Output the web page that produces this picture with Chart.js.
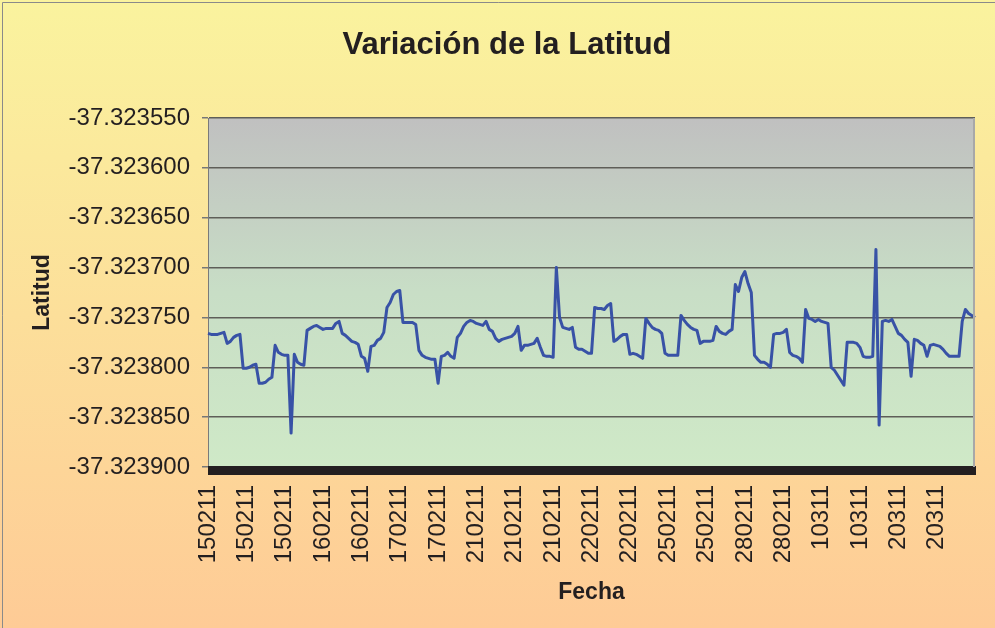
<!DOCTYPE html>
<html><head><meta charset="utf-8">
<script src="https://cdn.jsdelivr.net/npm/chart.js@4.4.1/dist/chart.umd.min.js"></script>
<style>html,body{margin:0;padding:0;background:#fff}#wrap{width:995px;height:628px;position:relative}</style>
</head><body><div id="wrap"><canvas id="c" width="995" height="628"></canvas></div>
<script>
// Tick labels (fecha) shown along the category axis, one every 12 readings
const tickLabels = ["150211","150211","150211","160211","160211","170211","170211",
  "210211","210211","210211","220211","220211","250211","250211","280211","280211",
  "10311","10311","20311","20311"];
const readingsPerTick = 12;

// Latitude readings (degrees)
const latitud = [
  -37.323766,-37.323767,-37.323767,-37.323767,-37.323766,-37.323765,-37.323776,-37.323774,-37.323770,-37.323768,-37.323767,-37.323801,
  -37.323801,-37.323800,-37.323798,-37.323797,-37.323816,-37.323816,-37.323815,-37.323812,-37.323810,-37.323778,-37.323785,-37.323787,
  -37.323788,-37.323788,-37.323866,-37.323787,-37.323795,-37.323797,-37.323798,-37.323763,-37.323761,-37.323759,-37.323758,-37.323760,
  -37.323762,-37.323761,-37.323761,-37.323761,-37.323756,-37.323754,-37.323766,-37.323768,-37.323771,-37.323774,-37.323775,-37.323777,
  -37.323789,-37.323791,-37.323804,-37.323779,-37.323778,-37.323773,-37.323771,-37.323765,-37.323740,-37.323735,-37.323727,-37.323724,
  -37.323723,-37.323755,-37.323755,-37.323755,-37.323755,-37.323757,-37.323783,-37.323788,-37.323790,-37.323791,-37.323792,-37.323792,
  -37.323816,-37.323789,-37.323788,-37.323785,-37.323789,-37.323791,-37.323770,-37.323766,-37.323759,-37.323755,-37.323753,-37.323754,
  -37.323756,-37.323757,-37.323758,-37.323754,-37.323762,-37.323764,-37.323771,-37.323774,-37.323772,-37.323771,-37.323770,-37.323769,
  -37.323766,-37.323759,-37.323783,-37.323778,-37.323778,-37.323777,-37.323776,-37.323771,-37.323780,-37.323788,-37.323789,-37.323789,
  -37.323790,-37.323700,-37.323750,-37.323760,-37.323761,-37.323762,-37.323760,-37.323780,-37.323782,-37.323782,-37.323784,-37.323786,
  -37.323786,-37.323740,-37.323741,-37.323741,-37.323742,-37.323738,-37.323736,-37.323774,-37.323772,-37.323769,-37.323767,-37.323767,
  -37.323787,-37.323786,-37.323787,-37.323789,-37.323791,-37.323751,-37.323756,-37.323760,-37.323762,-37.323763,-37.323766,-37.323786,
  -37.323788,-37.323788,-37.323788,-37.323788,-37.323748,-37.323753,-37.323757,-37.323760,-37.323762,-37.323763,-37.323776,-37.323774,
  -37.323774,-37.323774,-37.323773,-37.323759,-37.323764,-37.323766,-37.323767,-37.323764,-37.323762,-37.323717,-37.323724,-37.323710,
  -37.323704,-37.323716,-37.323725,-37.323788,-37.323792,-37.323795,-37.323795,-37.323797,-37.323800,-37.323767,-37.323766,-37.323766,
  -37.323765,-37.323762,-37.323785,-37.323788,-37.323789,-37.323791,-37.323795,-37.323742,-37.323751,-37.323752,-37.323754,-37.323752,
  -37.323754,-37.323755,-37.323756,-37.323800,-37.323803,-37.323808,-37.323813,-37.323818,-37.323775,-37.323775,-37.323775,-37.323776,
  -37.323780,-37.323789,-37.323790,-37.323790,-37.323789,-37.323682,-37.323858,-37.323754,-37.323753,-37.323754,-37.323752,-37.323759,
  -37.323766,-37.323768,-37.323772,-37.323775,-37.323809,-37.323772,-37.323773,-37.323776,-37.323778,-37.323789,-37.323778,-37.323777,
  -37.323778,-37.323779,-37.323782,-37.323786,-37.323789,-37.323789,-37.323789,-37.323789,-37.323754,-37.323742,-37.323746,-37.323748,
  -37.323750
];

// Y axis range / step
const yMin = -37.323900, yMax = -37.323550, yStep = 0.00005;

const titleText = 'Variación de la Latitud';

// Category labels: each reading carries the date of its block
const categories = latitud.map((_, i) => tickLabels[Math.min(Math.floor(i / readingsPerTick), tickLabels.length - 1)]);

const FONT = "'Liberation Sans', Arial, sans-serif";

const bgPlugin = {
  id: 'bg',
  beforeDraw(chart) {
    const {ctx, width, height, chartArea: a} = chart;
    ctx.save();
    const g = ctx.createLinearGradient(0, 0, 0, height);
    g.addColorStop(0, '#FAF39E');
    g.addColorStop(1, '#FECB96');
    ctx.fillStyle = g;
    ctx.fillRect(0, 0, width, height);
    // outer frame
    ctx.strokeStyle = '#8a8a8a';
    ctx.lineWidth = 1;
    ctx.beginPath();
    ctx.moveTo(2.5, height); ctx.lineTo(2.5, 2.5); ctx.lineTo(width, 2.5);
    ctx.stroke();
    // plot area
    const p = ctx.createLinearGradient(0, a.top, 0, a.bottom);
    p.addColorStop(0, '#C0C0C0');
    p.addColorStop(0.5, '#C8DEC6');
    p.addColorStop(1, '#CFE9C7');
    ctx.fillStyle = p;
    ctx.fillRect(a.left, a.top, a.right - a.left, a.bottom - a.top);
    // title
    ctx.fillStyle = '#231F20';
    ctx.font = 'bold 31px ' + FONT;
    ctx.textAlign = 'center';
    ctx.textBaseline = 'middle';
    ctx.fillText(titleText, 507, 45);
    ctx.restore();
  },
  afterDraw(chart) {
    const {ctx, chartArea: a} = chart;
    ctx.save();
    ctx.fillStyle = '#231F20';
    ctx.fillRect(a.left, a.bottom - 1, a.right - a.left + 1, 9);
    ctx.strokeStyle = '#A8A8A8';
    ctx.lineWidth = 2;
    ctx.beginPath();
    ctx.moveTo(a.right - 1, a.top); ctx.lineTo(a.right - 1, a.bottom);
    ctx.stroke();
    ctx.restore();
  }
};

new Chart(document.getElementById('c'), {
  type: 'line',
  data: {
    labels: categories,
    datasets: [{
      data: latitud,
      borderColor: '#3852A6',
      borderWidth: 3,
      pointRadius: 0,
      tension: 0,
      borderJoinStyle: 'round',
      fill: false
    }]
  },
  options: {
    responsive: false,
    animation: false,
    layout: {padding: {left: 0, right: 20, top: 118, bottom: 0}},
    plugins: {
      legend: {display: false},
      tooltip: {enabled: false},
      title: {display: false}
    },
    scales: {
      x: {
        type: 'category',
        offset: false,
        grid: {display: false, drawTicks: false},
        border: {display: false},
        ticks: {
          autoSkip: false,
          minRotation: 90,
          maxRotation: 90,
          padding: 18,
          color: '#231F20',
          font: {family: FONT, size: 24},
          callback(value, index) {
            return (index % readingsPerTick === 0 && index < latitud.length - 1) ? categories[index] : null;
          }
        },
        title: {
          display: true,
          text: 'Fecha',
          color: '#231F20',
          font: {family: FONT, size: 23, weight: 'bold'},
          padding: {top: 0, bottom: 22}
        },
        afterFit(s) { s.height = 161; }
      },
      y: {
        min: yMin,
        max: yMax,
        grid: {color: '#5E5E58', lineWidth: 1.5, tickLength: 6, tickColor: '#777'},
        border: {display: true, color: '#7a7a7a', width: 1},
        ticks: {
          stepSize: yStep,
          padding: 12,
          color: '#231F20',
          font: {family: FONT, size: 24},
          callback(v) { return v.toFixed(6); }
        },
        title: {
          display: true,
          text: 'Latitud',
          color: '#231F20',
          font: {family: FONT, size: 23, weight: 'bold'},
          padding: {top: 29, bottom: 0}
        },
        afterFit(s) { s.width = 208; }
      }
    }
  },
  plugins: [bgPlugin]
});
</script>
</body></html>
